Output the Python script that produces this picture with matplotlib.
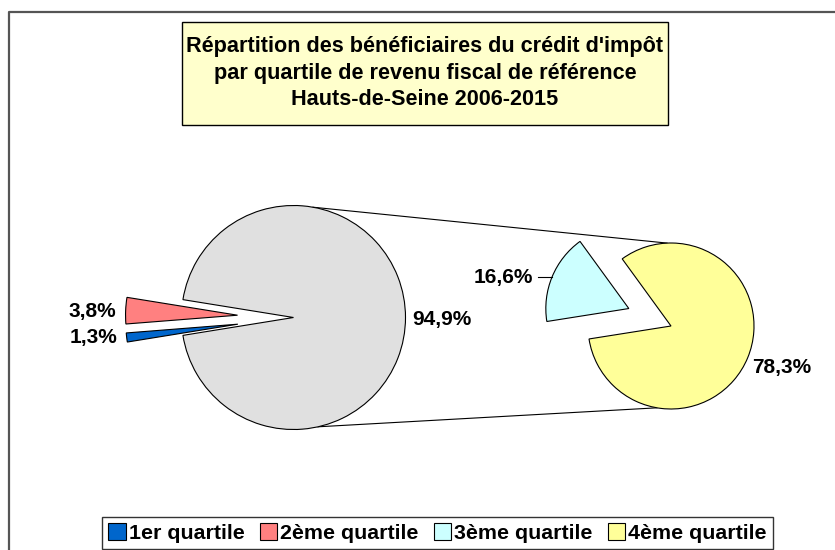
import numpy as np
import matplotlib
matplotlib.use("Agg")
import matplotlib.pyplot as plt
from matplotlib.patches import Rectangle

plt.rcParams['font.family'] = ['Liberation Sans', 'DejaVu Sans']
plt.rcParams['font.weight'] = 'bold'

# data
categories = ['1er quartile', '2ème quartile', '3ème quartile', '4ème quartile']
shares = [1.3, 3.8, 16.6, 78.3]
colors = ['#0066CC', '#FF8080', '#CCFFFF', '#FFFF99']
other_color = '#E0E0E0'
title = ("Répartition des bénéficiaires du crédit d'impôt\n"
         "par quartile de revenu fiscal de référence\n"
         "Hauts-de-Seine 2006-2015")

W, H = 835, 550


def Y(py):
    # pixel row -> data y (y axis points up)
    return H - py


def fmt(v):
    return f"{v:.1f}%".replace('.', ',')


fig = plt.figure(figsize=(W / 100, H / 100), dpi=100)
ax = fig.add_axes([0, 0, 1, 1])

# main pie: "other" (3rd+4th quartile) + the two first quartiles pulled out
other = shares[2] + shares[3]
c1, r1 = (293.5, Y(317.5)), 112
start1 = -other / 100 * 360 / 2
w1, _ = ax.pie([other, shares[1], shares[0]], colors=[other_color, colors[1], colors[0]],
               center=c1, radius=r1, startangle=start1, explode=[0, 0.5 * r1, 0.5 * r1],
               wedgeprops=dict(edgecolor='black', linewidth=0.8))

# secondary pie: split of the "other" slice
c2, r2 = (671, Y(326)), 83
span_c = shares[2] / other * 360
start2 = 157.5 + span_c / 2
w2, _ = ax.pie([shares[3], shares[2]], colors=[colors[3], colors[2]],
               center=c2, radius=r2, startangle=start2, explode=[0, 0.55 * r2],
               wedgeprops=dict(edgecolor='black', linewidth=0.8))

# connector lines between the two pies
for a1, a2 in [(80, 92.7), (-77.4, -99.7)]:
    p1 = (c1[0] + r1 * np.cos(np.radians(a1)), c1[1] + r1 * np.sin(np.radians(a1)))
    p2 = (c2[0] + r2 * np.cos(np.radians(a2)), c2[1] + r2 * np.sin(np.radians(a2)))
    ax.plot([p1[0], p2[0]], [p1[1], p2[1]], color='black', lw=0.8, zorder=0)

# data labels
lab = dict(fontsize=15, fontweight='bold')
ax.text(116, Y(311), fmt(shares[1]), ha='right', va='center', **lab)
ax.text(117, Y(338), fmt(shares[0]), ha='right', va='center', **lab)
ax.text(412, Y(319), fmt(other), ha='left', va='center', **lab)
ax.text(533, Y(277), fmt(shares[2]), ha='right', va='center', **lab)
ax.plot([538, 552], [Y(277), Y(277)], color='black', lw=0.8)
ax.text(752, Y(368), fmt(shares[3]), ha='left', va='center', **lab)

# title box
ax.add_patch(Rectangle((182, Y(125)), 486, 103, facecolor='#FFFFCC',
                       edgecolor='black', lw=1, zorder=3))
ax.text(425, Y(73), title, ha='center', va='center', fontsize=15.6,
        fontweight='bold', linespacing=1.36, zorder=4)

# chart area border (cut by the image edges)
ax.plot([8.5, 8.5, W + 5], [-5, Y(12), Y(12)], color='#555555', lw=1.6, zorder=5)

ax.set_xlim(0, W)
ax.set_ylim(0, H)
ax.axis('off')

handles = [w1[2], w1[1], w2[1], w2[0]]
leg = fig.legend(handles, categories, ncol=4, loc='upper left',
                 bbox_to_anchor=(102 / W, 1 - 517 / H), frameon=True, fancybox=False,
                 prop=dict(size=15.4, weight='bold'), handlelength=0.8, handleheight=0.8,
                 handletextpad=0.15, columnspacing=0.72, borderpad=0.3, borderaxespad=0)
leg.get_frame().set_edgecolor('black')
leg.get_frame().set_linewidth(1)

fig.savefig('out.png', dpi=100)
